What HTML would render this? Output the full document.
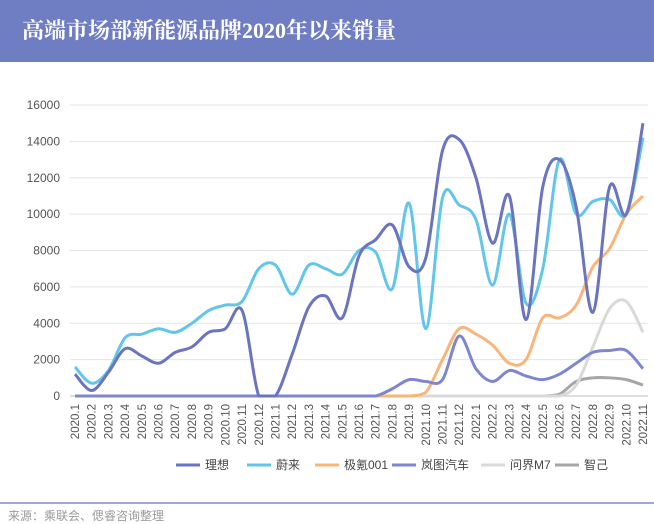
<!DOCTYPE html>
<html><head><meta charset="utf-8"><style>
body{margin:0;width:654px;height:520px;background:#fff;font-family:"Liberation Sans","Noto Sans CJK SC",sans-serif;overflow:hidden;position:relative}
.banner{position:absolute;left:0;top:0;width:654px;height:62px;background:#6f7dc2}
.banner h1{margin:0;position:absolute;left:22px;top:14px;font-family:"Liberation Serif","Noto Serif CJK SC",serif;font-size:22px;color:#fff;font-weight:bold}
.src{position:absolute;left:8px;top:507px;font-size:12px;color:#9a9a9a}
.rule{position:absolute;left:0;top:502px;width:654px;height:2px;background:#9ea6d8}
</style></head><body>
<div class="banner"><h1>高端市场部新能源品牌2020年以来销量</h1></div>
<svg id="c" width="654" height="500" style="position:absolute;left:0;top:0"></svg>
<div class="rule"></div>
<div class="src">来源：乘联会、偲睿咨询整理</div>
<script>
const categories=["2020.1","2020.2","2020.3","2020.4","2020.5","2020.6","2020.7","2020.8","2020.9","2020.10","2020.11","2020.12","2021.1","2021.2","2021.3","2021.4","2021.5","2021.6","2021.7","2021.8","2021.9","2021.10","2021.11","2021.12","2022.1","2022.2","2022.3","2022.4","2022.5","2022.6","2022.7","2022.8","2022.9","2022.10","2022.11"];
const lixiang=[1200,300,1300,2600,2200,1800,2400,2700,3500,3700,4700,0,0,2300,4900,5500,4300,7700,8600,9400,7100,7600,13500,14100,12000,8400,11000,4200,11500,13000,10400,4600,11500,10000,15000];
const weilai=[1600,700,1400,3200,3400,3700,3500,4000,4700,5000,5200,7000,7200,5600,7200,7000,6700,8000,7900,5900,10600,3700,10900,10500,9700,6100,10000,5100,7000,13000,10000,10700,10800,10000,14200];
const jike=[0,0,0,0,0,0,0,0,0,0,0,0,0,0,0,0,0,0,0,0,0,200,2000,3700,3400,2800,1800,2000,4300,4300,5000,7100,8100,10000,11000];
const lantu=[0,0,0,0,0,0,0,0,0,0,0,0,0,0,0,0,0,0,0,400,900,800,900,3300,1500,800,1400,1100,900,1200,1800,2400,2500,2500,1500];
const wenjie=[0,0,0,0,0,0,0,0,0,0,0,0,0,0,0,0,0,0,0,0,0,0,0,0,0,0,0,0,0,0,600,2700,4800,5200,3500];
const zhiji=[0,0,0,0,0,0,0,0,0,0,0,0,0,0,0,0,0,0,0,0,0,0,0,0,0,0,0,0,0,100,800,1000,1000,900,600];
const yTicks=[0,2000,4000,6000,8000,10000,12000,14000,16000];
const seriesNames=["理想","蔚来","极氪001","岚图汽车","问界M7","智己"];
const colors=["#6a74bf","#62c6ea","#f9b57a","#7e86cf","#d9d9d9","#a6a6a6"];
const svg=document.getElementById('c');const NS="http://www.w3.org/2000/svg";
const x0=75,x1=643,y0=396,y1=105;
const X=i=>x0+i*(x1-x0)/(categories.length-1);
const Y=v=>y0-(v/16000)*(y0-y1);
function mk(t,a,p){const e=document.createElementNS(NS,t);for(const k in a)e.setAttribute(k,a[k]);(p||svg).appendChild(e);return e;}
yTicks.forEach(t=>{
 const g=mk('line',{x1:x0-5,x2:x1+5,y1:Y(t),y2:Y(t),stroke:t?'#e3e5ec':'#bdbdbd','stroke-width':1});
 
 
 const l=mk('text',{x:60,y:Y(t)+4,'text-anchor':'end','font-size':12,fill:'#555'});l.textContent=t;
 
 
});
categories.forEach((c,i)=>{
 const l=mk('text',{transform:`translate(${X(i)+4},404) rotate(-90)`,'text-anchor':'end','font-size':11.5,fill:'#555'});l.textContent=c;
 
 
});
const cl=v=>Math.min(v,y0);
function path(vals){const p=vals.map((v,i)=>[X(i),Y(v)]);let d=`M${p[0][0]},${p[0][1]}`;
 for(let i=0;i<p.length-1;i++){const a=p[i-1]||p[i],b=p[i],c=p[i+1],e=p[i+2]||c;
 d+=`C${b[0]+(c[0]-a[0])/6},${cl(b[1]+(c[1]-a[1])/6)} ${c[0]-(e[0]-b[0])/6},${cl(c[1]-(e[1]-b[1])/6)} ${c[0]},${c[1]}`;}return d;}
const all=[lixiang,weilai,jike,lantu,wenjie,zhiji];
[5,4,2,3,1,0].forEach(k=>{
 const p=mk('path',{d:path(all[k]),fill:'none',stroke:colors[k],'stroke-width':3,'stroke-linejoin':'round'});
 
 
});
const lx=[176,247,315,392,481,555];
seriesNames.forEach((n,k)=>{
 const g=mk('g',{});
 
 
 mk('line',{x1:lx[k],x2:lx[k]+24,y1:465,y2:465,stroke:colors[k],'stroke-width':3},g);
 const t=mk('text',{x:lx[k]+29,y:469,'font-size':12,fill:'#444'},g);t.textContent=n;
});
</script>
</body></html>
